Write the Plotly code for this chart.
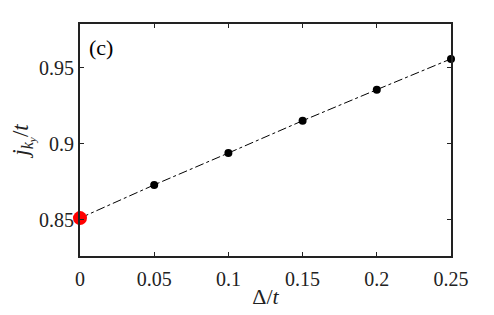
import plotly.graph_objects as go

delta = [0, 0.05, 0.1, 0.15, 0.2, 0.25]
j_vals = [0.851, 0.8729, 0.8939, 0.9152, 0.9357, 0.956]
x_ticks = [0, 0.05, 0.1, 0.15, 0.2, 0.25]
x_tick_labels = ["0", "0.05", "0.1", "0.15", "0.2", "0.25"]
y_ticks = [0.85, 0.9, 0.95]
y_tick_labels = ["0.85", "0.9", "0.95"]

FONT = "Liberation Serif"
INK = "#222222"

fig = go.Figure()
fig.add_trace(go.Scatter(
    x=delta, y=j_vals, mode="lines",
    line=dict(color="black", width=1, dash="dashdot"),
    showlegend=False, hoverinfo="skip"))
fig.add_trace(go.Scatter(
    x=delta[1:], y=j_vals[1:], mode="markers",
    marker=dict(color="black", size=8),
    showlegend=False, cliponaxis=False))
fig.add_trace(go.Scatter(
    x=delta[:1], y=j_vals[:1], mode="markers",
    marker=dict(color="#ff0000", size=14),
    showlegend=False, cliponaxis=False))

axis_common = dict(
    showline=True, linecolor=INK, linewidth=2, mirror="ticks",
    ticks="inside", ticklen=4, tickwidth=1, tickcolor=INK,
    showgrid=False, zeroline=False, automargin=False,
    tickfont=dict(family=FONT, size=20, color=INK),
)

fig.update_layout(
    width=486, height=307,
    margin=dict(l=72, r=43, t=16, b=59),
    paper_bgcolor="white", plot_bgcolor="white",
    font=dict(family=FONT, color=INK),
    xaxis=dict(range=[0, 0.25], tickvals=x_ticks, ticktext=x_tick_labels,
               ticklabelstandoff=4,
               title=dict(text="Δ/<i>t</i>", font=dict(family=FONT, size=22), standoff=0),
               **axis_common),
    yaxis=dict(range=[0.826, 0.979], tickvals=y_ticks, ticktext=y_tick_labels,
               title=dict(text="<i>j</i><sub><i>k<sub>y</sub></i></sub>/<i>t</i>",
                          font=dict(family=FONT, size=23), standoff=16),
               **axis_common),
    annotations=[dict(text="(c)", x=0.018, y=0.96, xref="paper", yref="paper",
                      xanchor="left", yanchor="top", showarrow=False,
                      font=dict(family=FONT, size=22, color="black"))],
)

fig.write_html("out.html")
